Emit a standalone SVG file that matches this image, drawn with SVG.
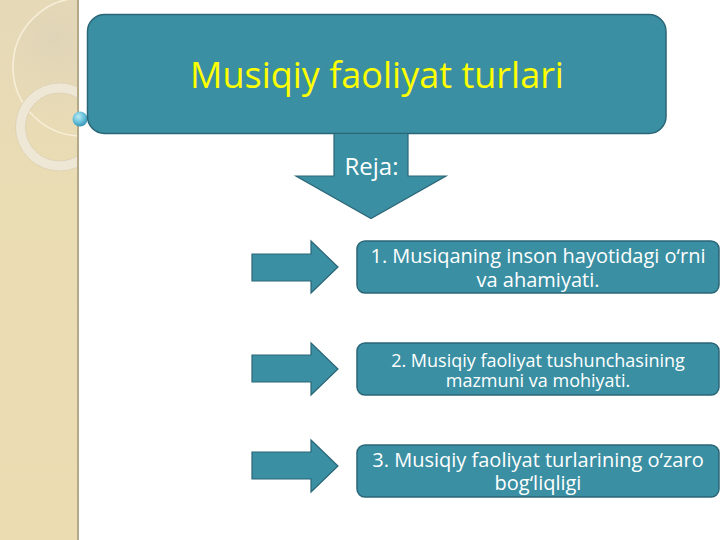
<svg xmlns="http://www.w3.org/2000/svg" width="720" height="540" viewBox="0 0 720 540">
  <defs>
    <style>
      .node { fill: #3A8FA3; stroke: #2B6677; stroke-width: 1.5; }
      .arrow { fill: #3A8FA3; stroke: #2B6677; stroke-width: 1.2; stroke-linejoin: miter; }
      .txt { font-family: "Open Sans", "Noto Sans", "DejaVu Sans", sans-serif; fill: #FFFFFF; text-anchor: middle; }
    </style>
    <linearGradient id="strip" x1="0" y1="0" x2="0" y2="1">
      <stop offset="0" stop-color="#E6D9B8"/>
      <stop offset="0.35" stop-color="#EADCB3"/>
      <stop offset="1" stop-color="#EBDCB2"/>
    </linearGradient>
    <radialGradient id="shade" cx="0.3" cy="0.3" r="0.7">
      <stop offset="0" stop-color="#DDD2B8" stop-opacity="0.7"/>
      <stop offset="1" stop-color="#E6D9B8" stop-opacity="0"/>
    </radialGradient>
    <radialGradient id="ball" cx="0.4" cy="0.35" r="0.7">
      <stop offset="0" stop-color="#BDEBF5"/>
      <stop offset="0.6" stop-color="#5FBBD6"/>
      <stop offset="1" stop-color="#2F8DAE"/>
    </radialGradient>
    <clipPath id="stripClip">
      <rect x="0" y="0" width="78" height="540"/>
    </clipPath>
  </defs>

  <rect x="0" y="0" width="720" height="540" fill="#FFFFFF"/>

  <g id="decor">
    <rect x="0" y="0" width="78" height="540" fill="url(#strip)"/>
    <g clip-path="url(#stripClip)">
      <circle cx="82" cy="67" r="69" fill="url(#shade)" stroke="#F7EED8" stroke-width="1.6"/>
      <circle cx="59.5" cy="127" r="39" fill="none" stroke="#EFE7D6" stroke-width="10"/>
      <circle cx="59.5" cy="127" r="44" fill="none" stroke="#DCCFB2" stroke-width="0.8"/>
      <circle cx="59.5" cy="127" r="34" fill="none" stroke="#DCCFB2" stroke-width="0.8"/>
    </g>
    <rect x="77" y="0" width="2" height="540" fill="#B3A888"/>
    <circle cx="80" cy="119" r="7.5" fill="url(#ball)"/>
  </g>

  <g id="title">
    <rect class="node" x="87.5" y="14.5" width="578.5" height="119" rx="17" ry="17"/>
    <text x="377" y="88" font-family="'Open Sans', 'Noto Sans', 'DejaVu Sans', sans-serif" font-size="36" fill="#FFFF00" text-anchor="middle">Musiqiy faoliyat turlari</text>
  </g>

  <g id="connectors">
    <g id="reja-arrow">
      <polygon class="arrow" points="334,133.5 408,133.5 408,176 446,176 371,218.5 296,176 334,176"/>
      <text class="txt" x="371.5" y="175" font-size="24">Reja:</text>
    </g>
    <polygon class="arrow" points="252,254 311,254 311,241 338,267 311,293 311,281 252,281"/>
    <polygon class="arrow" points="252,355 311,355 311,343 338,369 311,395 311,382 252,382"/>
    <polygon class="arrow" points="252,452 311,452 311,440 338,466 311,492 311,479 252,479"/>
  </g>

  <g id="item1">
    <rect class="node" x="357" y="241" width="362" height="52" rx="8" ry="8"/>
    <text class="txt" font-size="20"><tspan x="538" y="263">1. Musiqaning inson hayotidagi o‘rni</tspan><tspan x="538" y="287">va ahamiyati.</tspan></text>
  </g>

  <g id="item2">
    <rect class="node" x="357" y="343" width="362" height="52" rx="8" ry="8"/>
    <text class="txt" font-size="18"><tspan x="538" y="366.5">2. Musiqiy faoliyat tushunchasining</tspan><tspan x="538" y="387">mazmuni va mohiyati.</tspan></text>
  </g>

  <g id="item3">
    <rect class="node" x="357" y="445" width="362" height="52" rx="8" ry="8"/>
    <text class="txt" font-size="20"><tspan x="538" y="467">3. Musiqiy faoliyat turlarining o‘zaro</tspan><tspan x="538" y="490">bog‘liqligi</tspan></text>
  </g>
</svg>
